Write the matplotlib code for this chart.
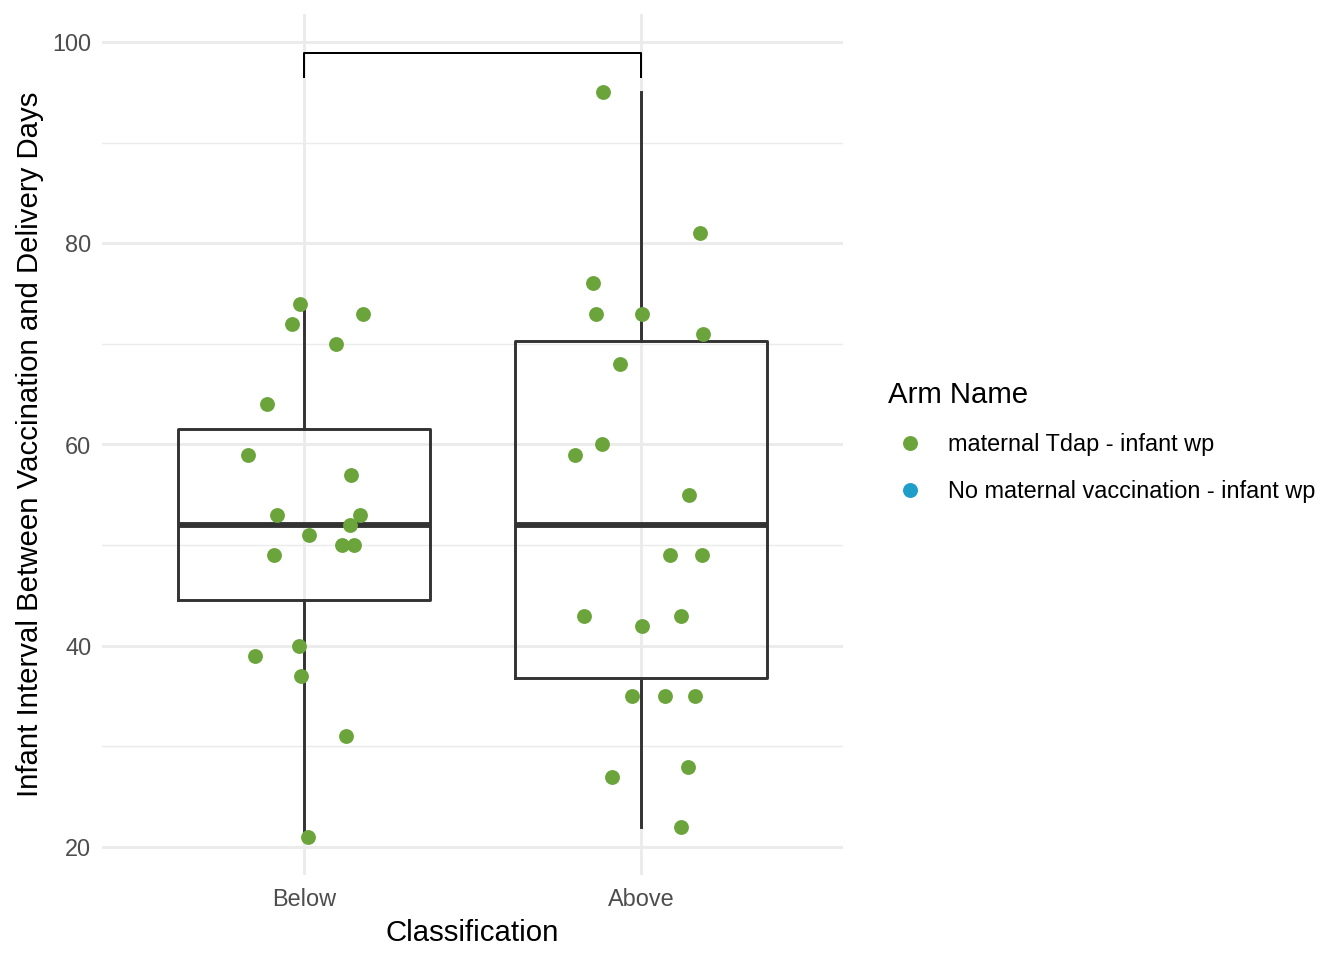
import numpy as np
import matplotlib.pyplot as plt
from matplotlib.lines import Line2D

plt.rcParams['font.family'] = ['Liberation Sans', 'DejaVu Sans']

categories = ["Below", "Above"]

below_vals = [74, 72, 73, 70, 64, 59, 57, 53, 53, 52, 51, 50, 50, 49, 40, 39, 37, 31, 21]
below_jit = [-0.012, -0.036, 0.175, 0.095, -0.110, -0.166, 0.139, -0.080, 0.166, 0.136,
             0.015, 0.113, 0.148, -0.089, -0.015, -0.145, -0.009, 0.125, 0.012]

above_vals = [95, 81, 76, 73, 73, 71, 68, 59, 60, 55, 49, 49, 43, 43, 42, 35, 35, 35, 27, 28, 22]
above_jit = [-0.113, 0.175, -0.142, -0.134, 0.003, 0.184, -0.062, -0.196, -0.116, 0.142,
             0.086, 0.181, -0.169, 0.119, 0.003, -0.027, 0.071, 0.160, -0.086, 0.139, 0.119]

# box stats (ggplot quantiles)
box_q1 = [44.5, 36.8]
box_med = [52, 52]
box_q3 = [61.5, 70.3]
box_lo = [21, 22]
box_hi = [74, 95]

arm_names = ["maternal Tdap - infant wp", "No maternal vaccination - infant wp"]
arm_colors = ["#6AA43A", "#1F9EC9"]

bracket_y = 98.9
bracket_tip = 96.5

fig = plt.figure(figsize=(7, 5), dpi=192)
ax = fig.add_axes([102/1344, 85/960, (843-102)/1344, (875-14)/960])

x = np.arange(1, len(categories) + 1)
stats = []
for i in range(len(categories)):
    stats.append(dict(med=box_med[i], q1=box_q1[i], q3=box_q3[i],
                      whislo=box_lo[i], whishi=box_hi[i], fliers=[]))
ax.bxp(stats, positions=x, widths=0.75, showfliers=False, showcaps=False,
       boxprops=dict(color="#333333", linewidth=1.1),
       whiskerprops=dict(color="#333333", linewidth=1.1),
       medianprops=dict(color="#333333", linewidth=2.2, solid_capstyle="butt"),
       zorder=2)

ax.scatter(x[0] + np.array(below_jit), below_vals, s=31, color=arm_colors[0],
           linewidths=0, zorder=3)
ax.scatter(x[1] + np.array(above_jit), above_vals, s=31, color=arm_colors[0],
           linewidths=0, zorder=3)

# significance bracket
ax.plot([x[0], x[0], x[1], x[1]], [bracket_tip, bracket_y, bracket_y, bracket_tip],
        color="black", linewidth=0.75, zorder=4)

ax.set_xlim(0.4, 2.6)
ax.set_ylim(17.22, 102.78)
ax.set_xticks(x)
ax.set_xticklabels(categories)
ax.set_yticks([20, 40, 60, 80, 100])
ax.set_yticks([30, 50, 70, 90], minor=True)
ax.grid(True, which="major", color="#EBEBEB", linewidth=1.07, zorder=0)
ax.grid(True, which="minor", axis="y", color="#EBEBEB", linewidth=0.53, zorder=0)
ax.set_axisbelow(True)
for s in ax.spines.values():
    s.set_visible(False)
ax.tick_params(which="both", length=0, labelsize=8.8, labelcolor="#4D4D4D", pad=4)
ax.tick_params(axis="x", pad=5)

ax.set_xlabel("Classification", fontsize=11, labelpad=3)
ax.set_ylabel("Infant Interval Between Vaccination and Delivery Days", fontsize=11, labelpad=3)

handles = [Line2D([], [], marker="o", linestyle="none", markersize=5.6,
                  markerfacecolor=c, markeredgewidth=0) for c in arm_colors]
leg = fig.legend(handles, arm_names, loc="center left",
                 bbox_to_anchor=(867/1344, 1 - 442/960),
                 frameon=False, title="Arm Name", fontsize=8.8, title_fontsize=11,
                 handletextpad=0.68, labelspacing=1.02, handlelength=1.875,
                 alignment="left")

fig.savefig("out.png", dpi=192)
